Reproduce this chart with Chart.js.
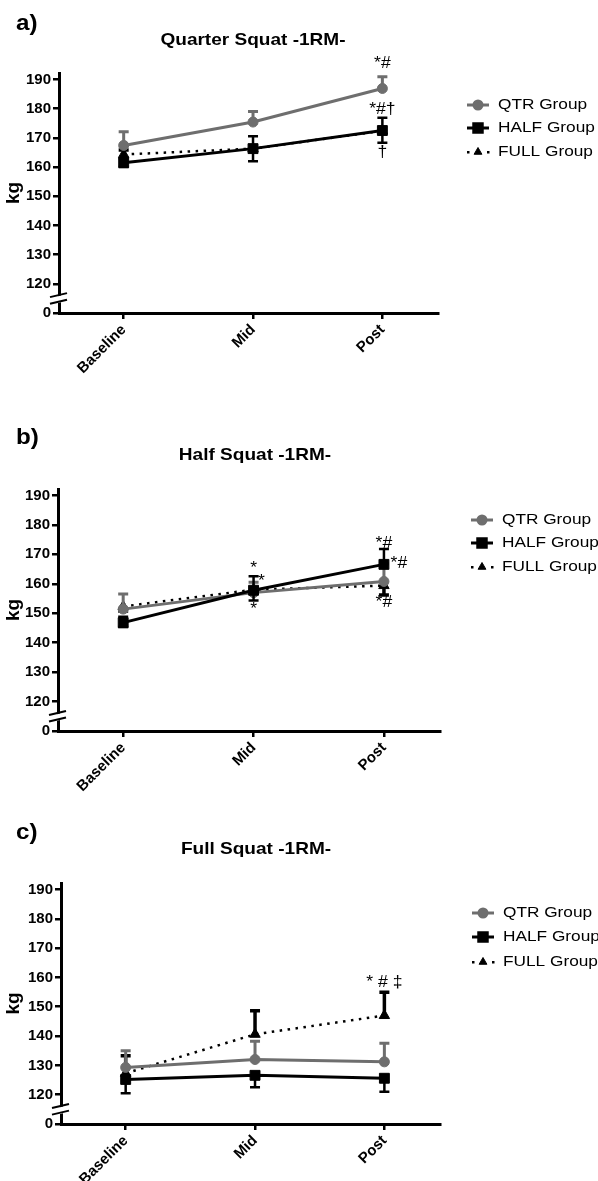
<!DOCTYPE html>
<html>
<head>
<meta charset="utf-8">
<script src="https://cdn.jsdelivr.net/npm/chart.js@4.4.0/dist/chart.umd.min.js"></script>
<style>
  body { margin: 0; background: #fff; }
  .wrap { position: relative; width: 598px; height: 1181px; overflow: hidden; }
  canvas { display: block; position: absolute; left: 0; }
</style>
</head>
<body>
<div class="wrap">
<canvas id="chartA" width="598" height="420" style="top:0"></canvas>
<canvas id="chartB" width="598" height="430" style="top:390px"></canvas>
<canvas id="chartC" width="598" height="401" style="top:780px"></canvas>
</div>
<script>
// categories and tick labels
const categories = ["Baseline", "Mid", "Post"];
const groupNames = ["QTR Group", "HALF Group", "FULL Group"];
// the axis is broken: the lowest tick (110) is labelled "0"
const yTickValues = [110, 120, 130, 140, 150, 160, 170, 180, 190];
const yTickLabels = ["0", "120", "130", "140", "150", "160", "170", "180", "190"];

// a) Quarter squat 1RM (kg), mean and SD up / down
const qtrA = [167.4, 175.4, 186.9];
const qtrAUp = [4.7, 3.6, 4.0];
const qtrADown = [0, 0, 0];
const halfA = [161.5, 166.3, 172.5];
const halfAUp = [1.5, 4.2, 4.4];
const halfADown = [1.5, 4.3, 4.2];
const fullA = [164.3, 166.3, 172.4];
const fullAUp = [1.5, 0, 0];
const fullADown = [0, 0, 0];

// b) Half squat 1RM
const qtrB = [151.4, 157.0, 160.8];
const qtrBUp = [5.1, 3.5, 6.0];
const qtrBDown = [0, 0, 0];
const halfB = [146.8, 157.8, 166.6];
const halfBUp = [2.0, 4.8, 5.2];
const halfBDown = [1.5, 3.5, 0];
const fullB = [152.3, 158.0, 159.4];
const fullBUp = [0, 0, 0];
const fullBDown = [1.5, 0, 3.2];

// c) Full squat 1RM
const qtrC = [129.3, 132.0, 131.2];
const qtrCUp = [5.7, 6.2, 6.3];
const qtrCDown = [0, 0, 0];
const halfC = [125.2, 126.6, 125.6];
const halfCUp = [0, 0, 0];
const halfCDown = [4.7, 4.1, 4.6];
const fullC = [127.3, 140.6, 147.0];
const fullCUp = [6.0, 8.0, 7.9];
const fullCDown = [0, 0, 0];

// significance marks: category index, kg value, text
const notesA = [
    { i: 2, v: 195.5, text: "*#" },
    { i: 2, v: 179.7, text: "*#\u2020" },
    { i: 2, v: 165.0, text: "\u2020" }
];
const notesB = [
    { i: 1, v: 165.3, text: "*" },
    { i: 1.06, v: 160.6, text: "*" },
    { i: 1, v: 151.1, text: "*" },
    { i: 2, v: 173.8, text: "*#" },
    { i: 2.115, v: 167.0, text: "*#" },
    { i: 2, v: 153.5, text: "*#" }
];
const notesC = [
    { i: 2, v: 158.3, text: "* # \u2021" }
];

const FONT = "'Liberation Sans', Arial, sans-serif";

const seriesStyle = [
    { color: "#6e6e6e", width: 3, dash: [], point: "circle", radius: 5, errWidth: 3, order: 1 },
    { color: "#000000", width: 3, dash: [], point: "rect", radius: 7, errWidth: 2.5, order: 0 },
    { color: "#000000", width: 2.5, dash: [2.5, 5.5], point: "triangle", radius: 6, errWidth: 3.5, order: 2 }
];

const panels = [
    {
        id: "chartA", h: 420, area: { left: 59, right: 438, top: 73, bottom: 313 },
        letter: "a)", letterY: 24, title: "Quarter Squat -1RM-", titleX: 253, titleY: 40,
        legendY: [105, 128, 152], legendX: 498,
        series: [
            { mean: qtrA, up: qtrAUp, down: qtrADown },
            { mean: halfA, up: halfAUp, down: halfADown },
            { mean: fullA, up: fullAUp, down: fullADown }
        ],
        notes: notesA
    },
    {
        id: "chartB", h: 430, area: { left: 58, right: 440, top: 99, bottom: 341 },
        letter: "b)", letterY: 48, title: "Half Squat -1RM-", titleX: 255, titleY: 65,
        legendY: [130, 153, 177], legendX: 502,
        series: [
            { mean: qtrB, up: qtrBUp, down: qtrBDown },
            { mean: halfB, up: halfBUp, down: halfBDown },
            { mean: fullB, up: fullBUp, down: fullBDown }
        ],
        notes: notesB
    },
    {
        id: "chartC", h: 401, area: { left: 61, right: 440, top: 103, bottom: 344 },
        letter: "c)", letterY: 53, title: "Full Squat -1RM-", titleX: 256, titleY: 69,
        legendY: [133, 157, 182], legendX: 503,
        series: [
            { mean: qtrC, up: qtrCUp, down: qtrCDown },
            { mean: halfC, up: halfCUp, down: halfCDown },
            { mean: fullC, up: fullCUp, down: fullCDown }
        ],
        notes: notesC
    }
];

function stretchText(ctx, text, x, y, font, align, sx) {
    ctx.save();
    ctx.font = font;
    ctx.fillStyle = "#000";
    ctx.textAlign = align;
    ctx.textBaseline = "middle";
    ctx.translate(x, y);
    ctx.scale(sx, 1);
    ctx.fillText(text, 0, 0);
    ctx.restore();
}

function makePlugin(p) {
    return {
        id: "deco" + p.id,
        beforeDatasetDraw(chart, args) {
            const s = p.series[args.index];
            const st = seriesStyle[args.index];
            const xs = chart.scales.x, ys = chart.scales.y;
            const ctx = chart.ctx;
            ctx.save();
            ctx.strokeStyle = st.color;
            ctx.lineWidth = st.errWidth;
            s.mean.forEach((m, i) => {
                const x = xs.getPixelForValue(i);
                const y0 = ys.getPixelForValue(m);
                [s.up[i], -s.down[i]].forEach(d => {
                    if (!d) return;
                    const y1 = ys.getPixelForValue(m + d);
                    ctx.beginPath();
                    ctx.moveTo(x, y0);
                    ctx.lineTo(x, y1);
                    ctx.moveTo(x - 5, y1);
                    ctx.lineTo(x + 5, y1);
                    ctx.stroke();
                });
            });
            ctx.restore();
        },
        afterDraw(chart) {
            const ctx = chart.ctx;
            const xs = chart.scales.x, ys = chart.scales.y;
            const left = chart.chartArea.left;

            // axis break
            const yb = ys.getPixelForValue(115);
            ctx.save();
            ctx.fillStyle = "#fff";
            ctx.beginPath();
            ctx.moveTo(left - 4, yb - 1.3);
            ctx.lineTo(left + 4, yb - 3.3);
            ctx.lineTo(left + 4, yb + 3.3);
            ctx.lineTo(left - 4, yb + 5.3);
            ctx.closePath();
            ctx.fill();
            ctx.strokeStyle = "#000";
            ctx.lineWidth = 2;
            [-3.3, 3.3].forEach(off => {
                ctx.beginPath();
                ctx.moveTo(left - 9, yb + off + 2);
                ctx.lineTo(left + 8, yb + off - 2);
                ctx.stroke();
            });
            ctx.restore();

            // panel letter, title, axis title
            stretchText(ctx, p.letter, 16, p.letterY, "bold 22px " + FONT, "left", 1.1);
            stretchText(ctx, p.title, p.titleX, p.titleY, "bold 17px " + FONT, "center", 1.12);
            ctx.save();
            ctx.translate(14, (chart.chartArea.top + chart.chartArea.bottom) / 2);
            ctx.rotate(-Math.PI / 2);
            ctx.font = "bold 19px " + FONT;
            ctx.fillStyle = "#000";
            ctx.textAlign = "center";
            ctx.textBaseline = "middle";
            ctx.fillText("kg", 0, 0);
            ctx.restore();

            // significance marks
            p.notes.forEach(n => {
                stretchText(ctx, n.text, xs.getPixelForValue(n.i), ys.getPixelForValue(n.v),
                    "16px " + FONT, "center", 1.1);
            });

            // legend
            groupNames.forEach((name, k) => {
                const st = seriesStyle[k];
                const y = p.legendY[k];
                const x0 = p.legendX - 31, x1 = p.legendX - 9;
                ctx.save();
                ctx.strokeStyle = st.color;
                ctx.fillStyle = st.color;
                if (k === 2) {
                    [x0 + 1, x1 - 1].forEach(dx => ctx.fillRect(dx - 1, y - 1, 2.5, 2.5));
                } else {
                    ctx.lineWidth = st.width;
                    ctx.beginPath();
                    ctx.moveTo(x0, y);
                    ctx.lineTo(x1, y);
                    ctx.stroke();
                }
                Chart.helpers.drawPoint(ctx, {
                    pointStyle: st.point,
                    radius: k === 2 ? 4.5 : st.radius - 1,
                    borderWidth: 1
                }, (x0 + x1) / 2, y);
                ctx.restore();
                stretchText(ctx, name, p.legendX, y, "15px " + FONT, "left", 1.15);
            });
        }
    };
}

panels.forEach(p => {
    const datasets = p.series.map((s, k) => {
        const st = seriesStyle[k];
        return {
            label: groupNames[k],
            data: s.mean.map((v, i) => ({ x: i, y: v })),
            borderColor: st.color,
            backgroundColor: st.color,
            borderWidth: st.width,
            borderDash: st.dash,
            pointStyle: st.point,
            pointRadius: st.radius,
            pointBorderWidth: 1,
            pointBackgroundColor: st.color,
            pointBorderColor: st.color,
            tension: 0,
            order: st.order
        };
    });

    const axisFont = { family: FONT, size: 15, weight: "bold" };
    const grid = { display: true, drawOnChartArea: false, drawTicks: true, tickLength: 6, color: "#000", lineWidth: 2.5 };
    const border = { display: true, color: "#000", width: 3 };

    new Chart(document.getElementById(p.id), {
        type: "line",
        data: { datasets },
        options: {
            responsive: false,
            animation: false,
            devicePixelRatio: 1,
            layout: { padding: { top: p.area.top, right: 598 - p.area.right, left: 0, bottom: 0 } },
            plugins: { legend: { display: false }, title: { display: false }, tooltip: { enabled: false } },
            scales: {
                x: {
                    type: "linear",
                    min: -0.5,
                    max: 2.43,
                    afterBuildTicks: s => { s.ticks = categories.map((c, i) => ({ value: i })); },
                    afterFit: s => { s.height = p.h - p.area.bottom; },
                    ticks: {
                        autoSkip: false,
                        maxRotation: 45,
                        minRotation: 45,
                        padding: 2,
                        color: "#000",
                        font: axisFont,
                        callback: (v, i) => categories[i]
                    },
                    grid, border
                },
                y: {
                    type: "linear",
                    min: 110,
                    max: 192.2,
                    afterBuildTicks: s => { s.ticks = yTickValues.map(v => ({ value: v })); },
                    afterFit: s => { s.width = p.area.left; },
                    ticks: {
                        padding: 2,
                        color: "#000",
                        font: axisFont,
                        callback: (v, i) => yTickLabels[i]
                    },
                    grid, border
                }
            }
        },
        plugins: [makePlugin(p)]
    });
});
</script>
</body>
</html>
